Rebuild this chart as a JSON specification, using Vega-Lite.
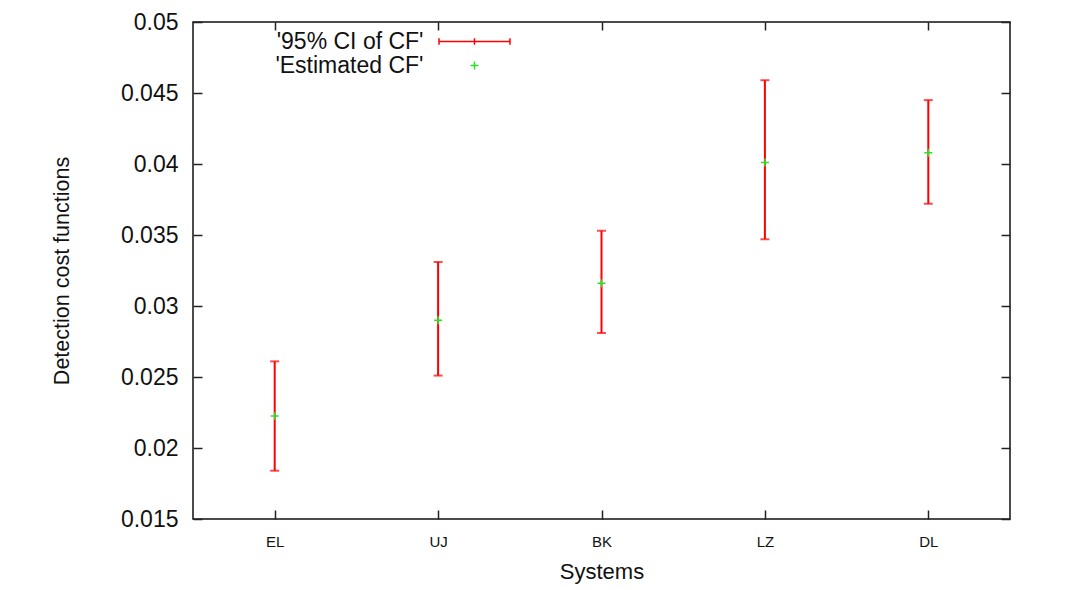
{
  "$schema": "https://vega.github.io/schema/vega-lite/v6.json",
  "width": 817,
  "height": 497,
  "autosize": {"type": "none"},
  "padding": {"left": 193, "top": 22, "right": 58, "bottom": 71},
  "background": "white",
  "config": {
    "font": "Liberation Sans",
    "view": {"stroke": "#111", "strokeWidth": 1.5},
    "axis": {"domain": false, "grid": false, "tickColor": "#222", "tickWidth": 1.5, "labelColor": "#111", "titleColor": "#111", "titleFontWeight": "normal", "labelFont": "Liberation Sans", "titleFont": "Liberation Sans"}
  },
  "data": {
    "values": [
      {"system": "EL", "low": 0.0184, "high": 0.0261, "est": 0.02225},
      {"system": "UJ", "low": 0.0251, "high": 0.0331, "est": 0.0290},
      {"system": "BK", "low": 0.0281, "high": 0.0353, "est": 0.0316},
      {"system": "LZ", "low": 0.0347, "high": 0.0459, "est": 0.0401},
      {"system": "DL", "low": 0.0372, "high": 0.0445, "est": 0.0408}
    ]
  },
  "resolve": {"axis": {"x": "independent", "y": "independent"}},
  "layer": [
    {
      "mark": {"type": "rule", "strokeWidth": 2},
      "encoding": {
        "x": {"field": "system", "type": "nominal", "sort": null,
          "scale": {"type": "point", "padding": 0.5, "domain": ["EL", "UJ", "BK", "LZ", "DL"]},
          "axis": {"orient": "bottom", "title": "Systems", "labelAngle": 0, "labelFontSize": 15, "tickSize": -9, "labelPadding": 24, "titleFontSize": 22, "titlePadding": 12}},
        "y": {"field": "low", "type": "quantitative",
          "scale": {"domain": [0.015, 0.05], "nice": false, "zero": false},
          "axis": {"orient": "left", "title": "Detection cost functions", "values": [0.015, 0.02, 0.025, 0.03, 0.035, 0.04, 0.045, 0.05], "format": "~g", "labelFontSize": 23, "tickSize": -9, "labelPadding": 24, "titleFontSize": 21.5, "titlePadding": 47}},
        "y2": {"field": "high"},
        "color": {"datum": "'95% CI of CF'", "type": "nominal",
          "scale": {"domain": ["'95% CI of CF'", "'Estimated CF'"], "range": ["#ff0000", "#2ee02e"]},
          "legend": {"orient": "none", "legendX": 270, "legendY": 8, "title": null, "padding": 0, "rowPadding": 0, "labelFontSize": 23, "labelAlign": "right", "labelOffset": -62.5, "symbolSize": 400, "symbolStrokeWidth": 1.5, "labelColor": "#111"}}
      }
    },
    {
      "mark": {"type": "tick", "color": "#ff0000", "size": 9, "thickness": 2},
      "encoding": {
        "x": {"field": "system", "type": "nominal", "sort": null, "axis": null},
        "y": {"field": "low", "type": "quantitative", "axis": null}
      }
    },
    {
      "mark": {"type": "tick", "color": "#ff0000", "size": 9, "thickness": 2},
      "encoding": {
        "x": {"field": "system", "type": "nominal", "sort": null, "axis": null},
        "y": {"field": "high", "type": "quantitative", "axis": null}
      }
    },
    {
      "mark": {"type": "point", "filled": false, "strokeWidth": 1.5, "size": 400, "opacity": 1},
      "encoding": {
        "x": {"field": "system", "type": "nominal", "sort": null,
          "axis": {"orient": "top", "labels": false, "title": null, "tickSize": -8}},
        "y": {"field": "est", "type": "quantitative",
          "axis": {"orient": "right", "labels": false, "title": null, "values": [0.015, 0.02, 0.025, 0.03, 0.035, 0.04, 0.045, 0.05], "tickSize": -9}},
        "color": {"datum": "'Estimated CF'", "type": "nominal"},
        "shape": {"datum": "'Estimated CF'", "type": "nominal",
          "scale": {"domain": ["'95% CI of CF'", "'Estimated CF'"], "range": ["M-3.55,0H3.55M-3.55,-0.32V0.32M3.55,-0.32V0.32M0,-0.32V0.32", "M-0.4,0H0.4M0,-0.4V0.4"]},
          "legend": {"orient": "none", "legendX": 270, "legendY": 8, "title": null, "padding": 0, "rowPadding": 0, "labelFontSize": 23, "labelAlign": "right", "labelOffset": -62.5, "symbolSize": 400, "symbolStrokeWidth": 1.5, "labelColor": "#111"}}
      }
    }
  ]
}
